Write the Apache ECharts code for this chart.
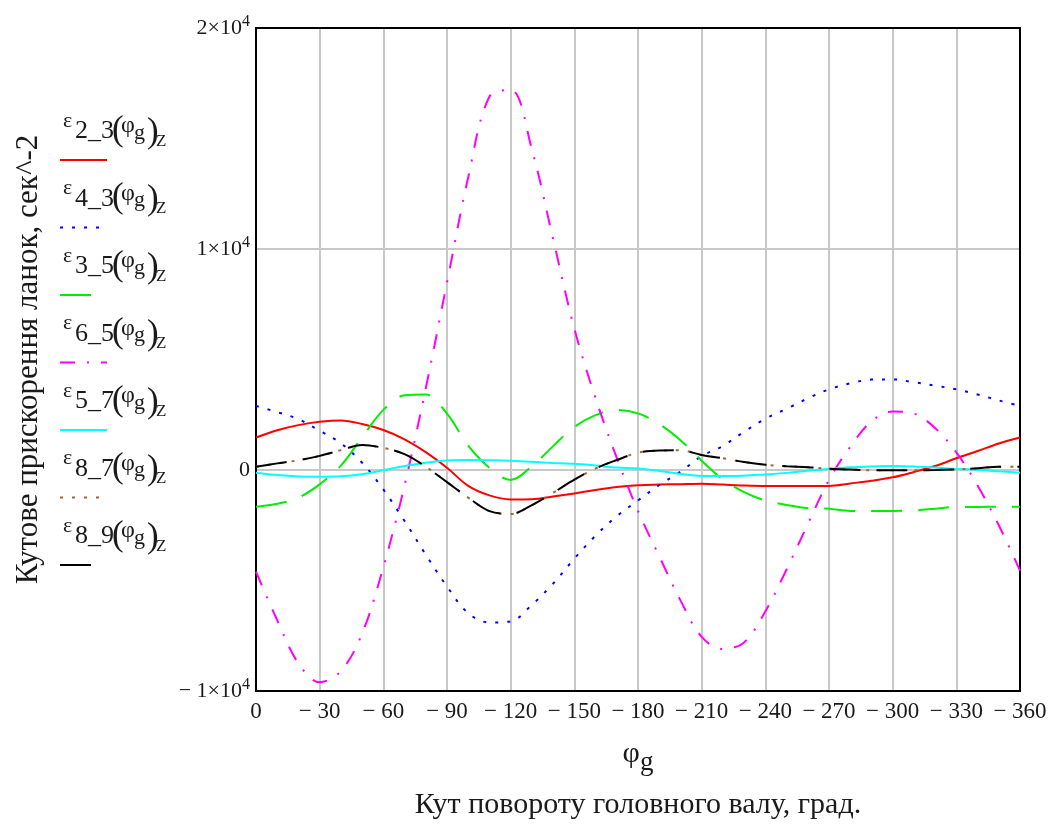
<!DOCTYPE html>
<html>
<head>
<meta charset="utf-8">
<script src="https://cdn.jsdelivr.net/npm/echarts@6/dist/echarts.min.js"></script>
<style>
html,body{margin:0;padding:0;background:#fff;}
#chart{width:1056px;height:826px;}
</style>
</head>
<body>
<div id="chart"></div>
<script>
// Angle of the head shaft, degrees (plotted 0 … −360)
const phi = [0,-10,-20,-30,-40,-50,-60,-70,-80,-90,-100,-110,-120,-130,-140,-150,-160,-170,-180,
  -190,-200,-210,-220,-230,-240,-250,-260,-270,-280,-290,-300,-310,-320,-330,-340,-350,-360];

// Angular accelerations, 1/s^2
const eps2_3 = [1470,1800,2030,2180,2240,2080,1810,1390,810,100,-720,-1150,-1330,-1320,-1200,-1060,-900,-770,-690,
  -660,-640,-620,-660,-700,-720,-720,-720,-720,-610,-490,-330,-90,180,530,860,1200,1470];
const eps4_3 = [2900,2620,2300,1780,1210,330,-880,-2310,-3830,-5270,-6480,-6900,-6850,-6100,-5140,-4010,-2970,-2090,-1380,
  -680,-80,630,1090,1730,2320,2770,3240,3650,3920,4090,4100,3970,3820,3650,3420,3150,2900];
const eps3_5 = [-1660,-1530,-1250,-650,200,1480,2720,3380,3420,2550,1100,100,-450,170,1080,1950,2480,2720,2560,
  2080,1350,420,-430,-1000,-1380,-1580,-1720,-1750,-1850,-1850,-1850,-1830,-1750,-1670,-1670,-1660,-1660];
const eps6_5 = [-4600,-6800,-8750,-9600,-9100,-7400,-4400,-700,3700,8480,13250,16900,17200,14500,10450,6400,3250,550,-1850,
  -3900,-5900,-7550,-8100,-7800,-6400,-4500,-2450,-450,1050,2200,2650,2550,1900,800,-700,-2500,-4550];
const eps5_7 = [-120,-230,-290,-300,-280,-190,-10,180,330,430,450,440,420,370,320,280,200,110,70,
  -40,-180,-270,-270,-260,-200,-130,-30,50,120,160,180,160,110,50,10,-60,-120];
const eps8_7 = [150,300,440,640,900,1130,1000,720,150,-550,-1250,-1860,-1990,-1590,-1030,-440,70,450,780,
  880,890,680,530,360,240,170,130,60,20,-10,-10,-10,0,30,80,150,150];
const eps8_9 = [150,300,440,640,900,1130,1000,720,150,-550,-1250,-1860,-1990,-1590,-1030,-440,70,450,780,
  880,890,680,530,360,240,170,130,60,20,-10,-10,-10,0,30,80,150,150];

// Legend subscripts
const legendSubs = ['2_3','4_3','3_5','6_5','5_7','8_7','8_9'];

// Tick labels
const xTickValues = [0,-30,-60,-90,-120,-150,-180,-210,-240,-270,-300,-330,-360];
const xTickLabels = ['0','− 30','− 60','− 90','− 120','− 150','− 180','− 210','− 240','− 270','− 300','− 330','− 360'];
const yTickValues = [-10000,0,10000,20000];
const yTickLabels = ['− 1×10^4','0','1×10^4','2×10^4'];

const yTitle = 'Кутове прискорення ланок, сек^-2';
const xTitle = 'Кут повороту головного валу, град.';

const FONT = '"Liberation Serif", "Times New Roman", serif';
const TXT = '#1a1a1a';

const seriesDefs = [
  {data: eps2_3, color:'#ff0000', dash:'solid'},
  {data: eps4_3, color:'#0000ff', dash:[3,9]},
  {data: eps3_5, color:'#00ee00', dash:[31,16]},
  {data: eps6_5, color:'#ff00ff', dash:[15,12,2,12]},
  {data: eps5_7, color:'#00ffff', dash:'solid'},
  {data: eps8_7, color:'#9a6a3a', dash:[3,9]},
  {data: eps8_9, color:'#000000', dash:[31,16]}
];

const chart = echarts.init(document.getElementById('chart'), null, {renderer:'canvas'});

function yFmt(v){
  const i = yTickValues.indexOf(v);
  if (i < 0) return '';
  const s = yTickLabels[i];
  if (s.indexOf('^') >= 0) {
    const p = s.split('^');
    return '{m|' + p[0] + '}{s|' + p[1] + '}';
  }
  return '{m|' + s + '}';
}
function xFmt(v){
  const i = xTickValues.indexOf(v);
  return i < 0 ? '' : xTickLabels[i];
}

// custom legend (label above sample line)
const graphics = [];
const legendTop = 160, legendStep = 67.5, lx = 60, sampleLen = 47;
legendSubs.forEach((sub, i) => {
  const L = legendTop + i * legendStep;
  const d = seriesDefs[i];
  const pieces = [
    {t:'ε', x:63, b:L-32, f:22},
    {t:sub, x:75, b:L-20, f:26},
    {t:'(', x:112, b:L-18, f:35},
    {t:'φ', x:121, b:L-26, f:24},
    {t:'g', x:134, b:L-20, f:22},
    {t:')', x:147, b:L-16, f:35},
    {t:'Z', x:156, b:L-13, f:17}
  ];
  pieces.forEach(p => {
    graphics.push({type:'text', x:p.x, y:p.b - 0.33*p.f, silent:true,
      style:{text:p.t, font: p.f + 'px ' + FONT, fill:TXT, verticalAlign:'middle', align:'left'}});
  });
  graphics.push({type:'line', silent:true,
    shape:{x1:lx, y1:L, x2:lx+sampleLen, y2:L},
    style:{stroke:d.color, lineWidth:2, lineDash: d.dash === 'solid' ? null : d.dash}});
});
graphics.push({type:'text', x:638, y:805, silent:true,
  style:{text:xTitle, font:'30px ' + FONT, fill:TXT, align:'center', verticalAlign:'middle'}});

const option = {
  backgroundColor:'#ffffff',
  animation:false,
  grid:{left:256, right:36, top:28, bottom:135, containLabel:false},
  xAxis:[{
    type:'value', min:-360, max:0, interval:30, inverse:true,
    axisLine:{show:true, onZero:false, lineStyle:{color:'#000', width:2}},
    axisTick:{show:false},
    splitLine:{show:true, lineStyle:{color:'#c8c8c8', width:2}},
    axisLabel:{formatter:xFmt, fontFamily:FONT, fontSize:23, color:TXT, margin:9, showMinLabel:true, showMaxLabel:true},
    name:'{p|φ}{g|g}', nameLocation:'middle', nameGap:42,
    nameTextStyle:{rich:{p:{fontFamily:FONT, fontSize:30, color:TXT}, g:{fontFamily:FONT, fontSize:27, color:TXT, padding:[16,0,0,0]}}}
  },{
    type:'value', position:'top', min:-360, max:0, inverse:true,
    axisLine:{show:true, onZero:false, lineStyle:{color:'#000', width:2}},
    axisTick:{show:false}, axisLabel:{show:false}, splitLine:{show:false}
  }],
  yAxis:[{
    type:'value', min:-10000, max:20000, interval:10000,
    axisLine:{show:true, onZero:false, lineStyle:{color:'#000', width:2}},
    axisTick:{show:false},
    splitLine:{show:true, lineStyle:{color:'#c8c8c8', width:2}},
    axisLabel:{formatter:yFmt, margin:6, showMinLabel:true, showMaxLabel:true,
      rich:{m:{fontFamily:FONT, fontSize:22, color:TXT}, s:{fontFamily:FONT, fontSize:16, color:TXT, padding:[0,0,12,0]}}},
    name:yTitle, nameLocation:'middle', nameGap:212, nameRotate:90,
    nameTextStyle:{fontFamily:FONT, fontSize:31, color:TXT}
  },{
    type:'value', position:'right', min:-10000, max:20000,
    axisLine:{show:true, onZero:false, lineStyle:{color:'#000', width:2}},
    axisTick:{show:false}, axisLabel:{show:false}, splitLine:{show:false}
  }],
  graphic: graphics,
  series: seriesDefs.map((d) => ({
    type:'line', xAxisIndex:0, yAxisIndex:0,
    data: phi.map((x, k) => [x, d.data[k]]),
    smooth:0.35, showSymbol:false, symbol:'none',
    lineStyle:{color:d.color, width:2, type:d.dash},
    silent:true
  }))
};
chart.setOption(option);
</script>
</body>
</html>
